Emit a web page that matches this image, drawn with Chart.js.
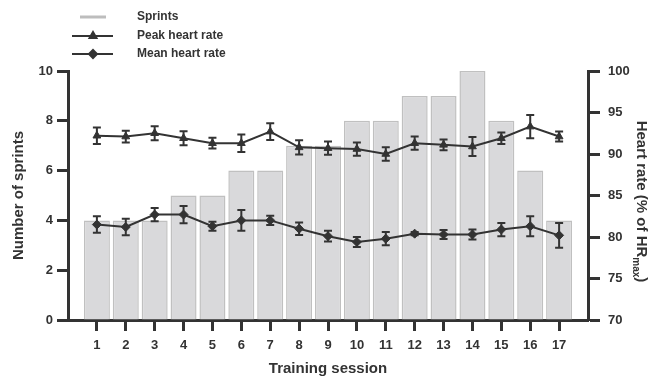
<!DOCTYPE html>
<html>
<head>
<meta charset="utf-8">
<script src="https://cdn.jsdelivr.net/npm/chart.js@4"></script>
<style>
  html, body { margin: 0; padding: 0; background: #fff; }
  #wrap { width: 651px; height: 377px; }
</style>
</head>
<body>
<div id="wrap"><canvas id="chart"></canvas></div>
<script>
const sessions = [1, 2, 3, 4, 5, 6, 7, 8, 9, 10, 11, 12, 13, 14, 15, 16, 17];
const sprints = [4, 4, 4, 5, 5, 6, 6, 7, 7, 8, 8, 9, 9, 10, 8, 6, 4];
const peakHR = [92.2, 92.1, 92.5, 91.9, 91.3, 91.3, 92.7, 90.8, 90.7, 90.6, 90.0, 91.3, 91.1, 90.9, 91.9, 93.3, 92.1];
const peakErr = [1.0, 0.7, 0.85, 0.85, 0.65, 1.05, 1.0, 0.85, 0.8, 0.8, 0.8, 0.8, 0.65, 1.15, 0.7, 1.4, 0.6];
const meanHR = [81.5, 81.2, 82.7, 82.7, 81.3, 82.0, 82.0, 81.0, 80.1, 79.4, 79.8, 80.4, 80.3, 80.3, 80.9, 81.3, 80.2];
const meanErr = [1.0, 1.0, 0.8, 1.05, 0.55, 1.25, 0.55, 0.75, 0.65, 0.6, 0.8, 0.2, 0.55, 0.6, 0.8, 1.2, 1.5];

const FONT = '"Liberation Sans", Arial, sans-serif';
const DARK = '#333333';

const errorBars = { 'Peak heart rate': peakErr, 'Mean heart rate': meanErr };

const errorBarPlugin = {
  id: 'errorBars',
  afterDatasetsDraw(chart) {
    const ctx = chart.ctx;
    const xs = chart.scales.x;
    const ys = chart.scales.y1;
    ctx.save();
    ctx.strokeStyle = DARK;
    ctx.lineWidth = 2;
    chart.data.datasets.forEach((ds) => {
      const errs = errorBars[ds.label];
      if (!errs) return;
      ds.data.forEach((p, i) => {
        const x = xs.getPixelForValue(p.x);
        const yTop = ys.getPixelForValue(p.y + errs[i]);
        const yBot = ys.getPixelForValue(p.y - errs[i]);
        ctx.beginPath();
        ctx.moveTo(x, yTop); ctx.lineTo(x, yBot);
        ctx.moveTo(x - 4, yTop); ctx.lineTo(x + 4, yTop);
        ctx.moveTo(x - 4, yBot); ctx.lineTo(x + 4, yBot);
        ctx.stroke();
      });
    });
    ctx.restore();
  }
};

const decorPlugin = {
  id: 'decor',
  afterDraw(chart) {
    const ctx = chart.ctx;
    ctx.save();
    // right axis title with subscript
    const ys = chart.scales.y1;
    const cy = (ys.top + ys.bottom) / 2 + 6;
    const big = 'bold 15px ' + FONT;
    const small = 'bold 10px ' + FONT;
    const t1 = 'Heart rate (% of HR', t2 = 'max', t3 = ')';
    ctx.font = big;
    const w1 = ctx.measureText(t1).width, w3 = ctx.measureText(t3).width;
    ctx.font = small;
    const w2 = ctx.measureText(t2).width;
    const total = w1 + w2 + w3;
    ctx.translate(641, cy);
    ctx.rotate(Math.PI / 2);
    ctx.fillStyle = DARK;
    ctx.textBaseline = 'middle';
    ctx.textAlign = 'left';
    let x0 = -total / 2;
    ctx.font = big; ctx.fillText(t1, x0, 0);
    ctx.font = small; ctx.fillText(t2, x0 + w1, 5);
    ctx.font = big; ctx.fillText(t3, x0 + w1 + w2, 0);
    ctx.restore();

    // legend
    ctx.save();
    ctx.font = 'bold 12px ' + FONT;
    ctx.textBaseline = 'middle';
    ctx.fillStyle = DARK;
    const rows = [
      { y: 17, text: 'Sprints', kind: 'bar' },
      { y: 36, text: 'Peak heart rate', kind: 'triangle' },
      { y: 54, text: 'Mean heart rate', kind: 'rectRot' }
    ];
    rows.forEach((r) => {
      if (r.kind === 'bar') {
        ctx.strokeStyle = '#bdbdbd';
        ctx.lineWidth = 3;
        ctx.beginPath(); ctx.moveTo(80, r.y); ctx.lineTo(106, r.y); ctx.stroke();
      } else {
        ctx.strokeStyle = DARK;
        ctx.lineWidth = 2;
        ctx.beginPath(); ctx.moveTo(72, r.y); ctx.lineTo(113, r.y); ctx.stroke();
        Chart.helpers.drawPoint(ctx, { pointStyle: r.kind, radius: 4, borderWidth: 1 }, 93, r.y);
        ctx.fillStyle = DARK;
      }
      ctx.fillText(r.text, 137, r.y);
    });
    ctx.restore();
  }
};

const tickFont = { family: FONT, size: 13, weight: 'bold' };
const titleFont = { family: FONT, size: 15, weight: 'bold', lineHeight: 1.1 };

new Chart(document.getElementById('chart'), {
  data: {
    datasets: [
      {
        type: 'line',
        label: 'Peak heart rate',
        data: sessions.map((s, i) => ({ x: s, y: peakHR[i] })),
        yAxisID: 'y1',
        borderColor: DARK,
        backgroundColor: DARK,
        borderWidth: 2,
        pointStyle: 'triangle',
        pointRadius: 4.5,
        pointBorderWidth: 1,
        tension: 0,
        order: 1
      },
      {
        type: 'line',
        label: 'Mean heart rate',
        data: sessions.map((s, i) => ({ x: s, y: meanHR[i] })),
        yAxisID: 'y1',
        borderColor: DARK,
        backgroundColor: DARK,
        borderWidth: 2,
        pointStyle: 'rectRot',
        pointRadius: 4.5,
        pointBorderWidth: 1,
        tension: 0,
        order: 1
      },
      {
        type: 'bar',
        label: 'Sprints',
        data: sessions.map((s, i) => ({ x: s, y: sprints[i] })),
        yAxisID: 'y',
        backgroundColor: '#d9d9db',
        borderColor: '#c0c0c0',
        borderWidth: 1.5,
        categoryPercentage: 1,
        barPercentage: 0.9,
        order: 2
      }
    ]
  },
  options: {
    responsive: true,
    maintainAspectRatio: false,
    animation: false,
    layout: { padding: { top: 71, left: 0, right: 0, bottom: 0 } },
    plugins: { legend: { display: false }, tooltip: { enabled: false } },
    scales: {
      x: {
        type: 'linear',
        min: 0,
        max: 18,
        offset: false,
        afterBuildTicks: (s) => { s.ticks = s.ticks.filter((t) => t.value >= 1 && t.value <= 17); },
        afterFit: (s) => { s.height = 57; },
        ticks: { stepSize: 1, color: DARK, font: tickFont, padding: 7, maxRotation: 0, autoSkip: false },
        grid: { offset: false, drawOnChartArea: false, drawTicks: true, tickLength: 11, tickWidth: 3, tickColor: DARK },
        border: { display: true, width: 3, color: DARK },
        title: { display: true, text: 'Training session', color: DARK, font: titleFont, padding: { top: 2, bottom: 0 } }
      },
      y: {
        position: 'left',
        min: 0,
        max: 10,
        afterFit: (s) => { s.width = 68; },
        ticks: { stepSize: 2, color: DARK, font: tickFont, padding: 4 },
        grid: { drawOnChartArea: false, drawTicks: true, tickLength: 11, tickWidth: 3, tickColor: DARK },
        border: { display: true, width: 3, color: DARK },
        title: { display: true, text: 'Number of sprints', color: DARK, font: titleFont, padding: { top: 11, bottom: 0 } }
      },
      y1: {
        position: 'right',
        min: 70,
        max: 100,
        afterFit: (s) => { s.width = 63; },
        ticks: { stepSize: 5, color: DARK, font: tickFont, padding: 8 },
        grid: { drawOnChartArea: false, drawTicks: true, tickLength: 12, tickWidth: 3, tickColor: DARK },
        border: { display: true, width: 3, color: DARK }
      }
    }
  },
  plugins: [errorBarPlugin, decorPlugin]
});
</script>
</body>
</html>
